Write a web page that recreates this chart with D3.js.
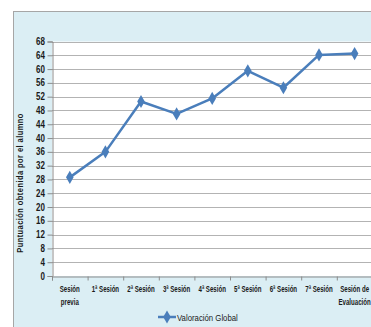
<!DOCTYPE html>
<html>
<head>
<meta charset="utf-8">
<script src="https://cdn.jsdelivr.net/npm/d3@7"></script>
<style>
  html, body { margin: 0; padding: 0; background: #ffffff; }
  svg { display: block; }
  text { font-family: "Liberation Sans", Arial, sans-serif; }
</style>
</head>
<body>
<svg id="chart" width="371" height="327"></svg>
<script>
// Sesiones evaluadas y puntuación global obtenida en cada una
const categories = [
  ["Sesión", "previa"], ["1ª Sesión"], ["2ª Sesión"], ["3ª Sesión"], ["4ª Sesión"],
  ["5ª Sesión"], ["6ª Sesión"], ["7ª Sesión"], ["Sesión de", "Evaluación"]
];
const valoracionGlobal = [28.6, 36.0, 50.6, 47.0, 51.5, 59.5, 54.6, 64.1, 64.5];
const yTicks = [0, 4, 8, 12, 16, 20, 24, 28, 32, 36, 40, 44, 48, 52, 56, 60, 64, 68];
const seriesName = "Valoración Global";
const yTitle = "Puntuación obtenida por el alumno";

const svg = d3.select("#chart");
const lineColor = "#4a7ebb";
const textColor = "#1a1a1a";

// Texto estrechado horizontalmente (tipografía condensada)
function narrowText(parent, x, y, str, opts) {
  const g = parent.append("g").attr("transform", `translate(${x},${y}) scale(${opts.sx},1)`);
  return g.append("text")
    .attr("text-anchor", opts.anchor || "middle")
    .attr("font-size", opts.size)
    .attr("font-weight", opts.weight || "normal")
    .attr("fill", textColor)
    .text(str);
}

// Marco exterior del gráfico
svg.append("rect")
  .attr("x", 13.5).attr("y", 11.5)
  .attr("width", 400).attr("height", 400)
  .attr("fill", "#dbeef4")
  .attr("stroke", "#a6a6a6").attr("stroke-width", 1);

const plot = { left: 52, top: 41.5, bottom: 276, right: 408 };

const x = d3.scaleBand()
  .domain(d3.range(categories.length + 1))
  .range([plot.left, plot.right])
  .padding(0);

const y = d3.scaleLinear().domain([0, 68]).range([plot.bottom, plot.top]);

// Área de trazado
svg.append("rect")
  .attr("x", plot.left).attr("y", plot.top)
  .attr("width", plot.right - plot.left).attr("height", plot.bottom - plot.top)
  .attr("fill", "#ffffff");

// Líneas de división horizontales
svg.append("g")
  .selectAll("line")
  .data(yTicks.filter(d => d > 0))
  .join("line")
  .attr("x1", plot.left).attr("x2", plot.right)
  .attr("y1", d => Math.round(y(d)) + 0.5).attr("y2", d => Math.round(y(d)) + 0.5)
  .attr("stroke", "#b3b3b3").attr("stroke-width", 1);

// Eje Y
const yAxis = svg.append("g")
  .attr("transform", `translate(${plot.left + 0.5},0)`)
  .call(d3.axisLeft(y).tickValues(yTicks).tickSize(5).tickFormat(""));
yAxis.select(".domain").attr("stroke", "#8c8c8c");
yAxis.selectAll(".tick line").attr("stroke", "#8c8c8c");
const yLabels = svg.append("g");
yTicks.forEach(v => {
  narrowText(yLabels, 45, y(v) + 3.5, String(v), { sx: 0.8, size: 10, weight: "bold", anchor: "end" });
});

// Eje X
const xAxis = svg.append("g")
  .attr("transform", `translate(0,${plot.bottom + 0.5})`)
  .call(d3.axisBottom(x).tickValues(d3.range(categories.length + 1)).tickSize(4).tickFormat(""));
xAxis.selectAll(".tick").attr("transform", d => `translate(${x(d) + 0.5},0)`);
xAxis.select(".domain").attr("stroke", "#8c8c8c");
xAxis.selectAll(".tick line").attr("stroke", "#8c8c8c");

const cx = i => x(i) + x.bandwidth() / 2;

const xLabels = svg.append("g");
categories.forEach((lines, i) => {
  lines.forEach((ln, k) => {
    narrowText(xLabels, cx(i), 291.5 + k * 13, ln, { sx: 0.68, size: 9, weight: "bold" });
  });
});

// Título del eje Y
svg.append("g")
  .attr("transform", "translate(23,183) rotate(-90) scale(0.88,1)")
  .append("text")
  .attr("text-anchor", "middle")
  .attr("font-size", 8.5).attr("font-weight", "bold").attr("fill", textColor)
  .attr("letter-spacing", 0.5)
  .text(yTitle);

// Serie
const line = d3.line().x((d, i) => cx(i)).y(d => y(d));
svg.append("path")
  .datum(valoracionGlobal)
  .attr("d", line)
  .attr("fill", "none")
  .attr("stroke", lineColor).attr("stroke-width", 2.5)
  .attr("stroke-linejoin", "round");

const diamond = d3.symbol().type(d3.symbolDiamond).size(50);
svg.append("g")
  .selectAll("path")
  .data(valoracionGlobal)
  .join("path")
  .attr("transform", (d, i) => `translate(${cx(i)},${y(d)})`)
  .attr("d", diamond)
  .attr("fill", lineColor);

// Leyenda
const legend = svg.append("g").attr("transform", "translate(158,317)");
legend.append("line")
  .attr("x1", 0).attr("x2", 18).attr("y1", 0).attr("y2", 0)
  .attr("stroke", lineColor).attr("stroke-width", 2.5);
legend.append("path").attr("transform", "translate(9,0)").attr("d", diamond).attr("fill", lineColor);
narrowText(legend, 19, 3.5, seriesName, { sx: 0.82, size: 9.5, anchor: "start" });
</script>
</body>
</html>
